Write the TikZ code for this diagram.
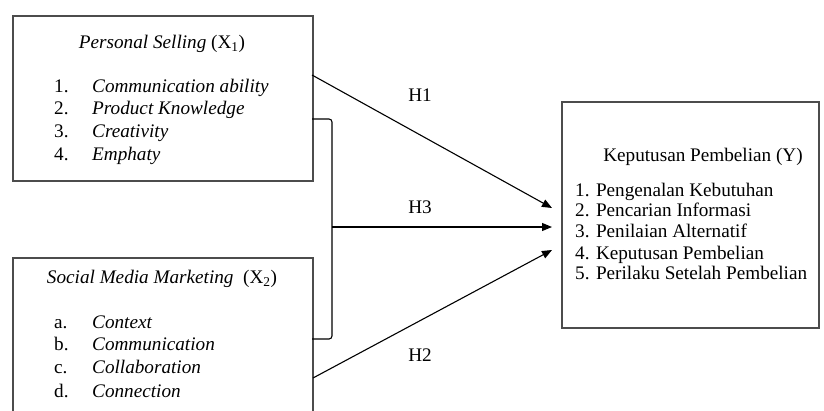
\documentclass[tikz,border=0pt]{standalone}
\usepackage{fontspec}
\setmainfont{Liberation Serif}
\usetikzlibrary{arrows.meta}
\begin{document}
\begin{tikzpicture}[x=1pt,y=-1pt,
  boxst/.style={draw=black!70,line width=1.8pt,anchor=north west,inner sep=0pt},
  txt/.style={font=\fontsize{19.2}{21}\selectfont,inner sep=0pt},
  conn/.style={line width=1.1pt,black},
  arr/.style={conn,-{Triangle[length=10pt,width=8pt]}},
  hlab/.style={txt}]
\useasboundingbox (0,0) rectangle (824,410);
\clip (0,0) rectangle (824,410);
% boxes
\node[boxst,minimum width=300pt,minimum height=165pt] (x1) at (12,15) {};
\node[boxst,minimum width=300pt,minimum height=170pt] (x2) at (12,257) {};
\node[boxst,minimum width=257pt,minimum height=226pt] (y) at (561,101) {};
% box 1 text
\node[txt,anchor=base] (t1) at (162,48) {\textit{Personal Selling} (X\textsubscript{1})};
\node[txt,anchor=base west] (a1) at (54,92) {1.};
\node[txt,anchor=base west] (b1) at (92,92) {\textit{Communication ability}};
\node[txt,anchor=base west] (a2) at (54,114) {2.};
\node[txt,anchor=base west] (b2) at (92,114) {\textit{Product Knowledge}};
\node[txt,anchor=base west] (a3) at (54,137) {3.};
\node[txt,anchor=base west] (b3) at (92,137) {\textit{Creativity}};
\node[txt,anchor=base west] (a4) at (54,160) {4.};
\node[txt,anchor=base west] (b4) at (92,160) {\textit{Emphaty}};
% box 2 text
\node[txt,anchor=base] (t2) at (162,283) {\textit{Social Media Marketing}~ (X\textsubscript{2})};
\node[txt,anchor=base west] (c1) at (54,328) {a.};
\node[txt,anchor=base west] (d1) at (92,328) {\textit{Context}};
\node[txt,anchor=base west] (c2) at (54,350) {b.};
\node[txt,anchor=base west] (d2) at (92,350) {\textit{Communication}};
\node[txt,anchor=base west] (c3) at (54,373) {c.};
\node[txt,anchor=base west] (d3) at (92,373) {\textit{Collaboration}};
\node[txt,anchor=base west] (c4) at (54,397) {d.};
\node[txt,anchor=base west] (d4) at (92,397) {\textit{Connection}};
% box Y text
\node[txt,anchor=base] (ty) at (703,161) {Keputusan Pembelian (Y)};
\node[txt,anchor=base west] (y1) at (575,196) {1. Pengenalan Kebutuhan};
\node[txt,anchor=base west] (y2) at (575,216) {2. Pencarian Informasi};
\node[txt,anchor=base west] (y3) at (575,237) {3. Penilaian Alternatif};
\node[txt,anchor=base west] (y4) at (575,259) {4. Keputusan Pembelian};
\node[txt,anchor=base west] (y5) at (575,279) {5. Perilaku Setelah Pembelian};
% connector points
\coordinate (s1) at (312,75);
\coordinate (s2) at (313,378);
\coordinate (bt) at (312,119);
\coordinate (bb) at (312,339);
\coordinate (bm) at (332,227);
\coordinate (e1) at (552,208);
\coordinate (e3) at (552,227);
\coordinate (e2) at (552,250);
% bracket
\draw[conn,rounded corners=3pt] (bt) -- (332,119) -- (332,339) -- (bb);
% arrows
\draw[arr] (s1) -- (e1);
\draw[arr] (bm) -- (e3);
\draw[arr] (s2) -- (e2);
% labels
\node[hlab] (h1) at (420,95) {H1};
\node[hlab] (h3) at (420,207) {H3};
\node[hlab] (h2) at (420,355) {H2};
\end{tikzpicture}
\end{document}
